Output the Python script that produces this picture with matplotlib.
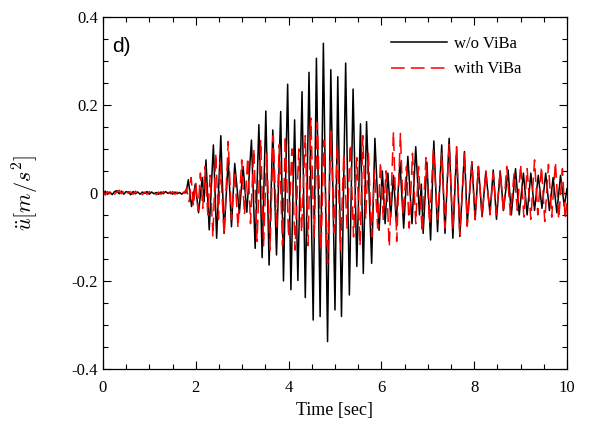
"""
plot.py
-------
Acceleration response with and without ViBa, panel d).
Values are peak / trough readings taken off the original figure.
"""

import matplotlib
matplotlib.use("Agg")
import matplotlib.pyplot as plt
from matplotlib.ticker import MultipleLocator, FuncFormatter


# quiet part before the shaking starts (shared times)
quiet_t = [0.00, 0.05, 0.10, 0.15, 0.20, 0.25, 0.30, 0.35, 0.40, 0.45,
           0.50, 0.55, 0.60, 0.65, 0.70, 0.75, 0.80, 0.85, 0.90, 0.95,
           1.00, 1.05, 1.10, 1.15, 1.20, 1.25, 1.30, 1.35, 1.40, 1.45,
           1.50, 1.55, 1.60, 1.65, 1.70, 1.75]
quiet_black = [-0.006, 0.004, -0.003, 0.002, -0.004, 0.003, 0.005, -0.002,
               0.004, -0.003, 0.003, 0.001, -0.004, 0.003, -0.002, 0.002,
               -0.003, 0.002, -0.001, 0.003, -0.003, 0.002, -0.002, 0.001,
               -0.003, 0.002, -0.002, 0.003, -0.001, 0.002, -0.003, 0.002,
               -0.002, 0.001, -0.003, 0.002]
quiet_red = [0.004, -0.005, 0.003, -0.002, 0.005, -0.003, 0.002, 0.006,
             -0.002, 0.004, -0.004, 0.003, 0.002, -0.003, 0.004, -0.002,
             0.003, -0.004, 0.002, -0.003, 0.003, -0.002, 0.001, -0.004,
             0.002, -0.003, 0.003, -0.004, 0.002, -0.002, 0.003, -0.003,
             0.002, -0.004, 0.002, -0.001]

# w/o ViBa: extremes after 1.77 s
black_t = [1.79, 1.84, 1.91, 1.99, 2.06, 2.14, 2.18, 2.22, 2.29, 2.38,
           2.45, 2.54, 2.61, 2.70, 2.77, 2.84, 2.94, 3.02, 3.10, 3.20,
           3.28, 3.36, 3.43, 3.51, 3.58, 3.66, 3.74, 3.83, 3.89, 3.98,
           4.05, 4.13, 4.20, 4.29, 4.36, 4.44, 4.53, 4.60, 4.68, 4.75,
           4.84, 4.91, 5.00, 5.06, 5.14, 5.23, 5.31, 5.39, 5.47, 5.55,
           5.61, 5.68, 5.79, 5.86, 5.95, 6.02, 6.08, 6.14, 6.20, 6.26,
           6.32, 6.40, 6.48, 6.57, 6.66, 6.74, 6.82, 6.86, 6.90, 6.98,
           7.06, 7.13, 7.21, 7.30, 7.37, 7.46, 7.54, 7.62, 7.69, 7.79,
           7.85, 7.95, 8.02, 8.09, 8.17, 8.25, 8.34, 8.41, 8.48, 8.56,
           8.63, 8.73, 8.80, 8.89, 8.97, 9.06, 9.14, 9.22, 9.30, 9.38,
           9.46, 9.54, 9.62, 9.70, 9.78, 9.86, 9.94, 10.0]
black_v = [0.000, 0.030, -0.031, 0.020, -0.045, 0.035, -0.020, 0.075, -0.084, 0.109,
           -0.103, 0.130, -0.092, 0.075, -0.077, 0.067, -0.046, 0.060, -0.044, 0.120,
           -0.126, 0.155, -0.147, 0.186, -0.164, 0.143, -0.141, 0.185, -0.200, 0.247,
           -0.220, 0.166, -0.199, 0.230, -0.238, 0.274, -0.289, 0.306, -0.281, 0.340,
           -0.338, 0.280, -0.266, 0.264, -0.281, 0.295, -0.232, 0.236, -0.167, 0.157,
           -0.183, 0.162, -0.160, 0.124, -0.085, 0.050, -0.070, 0.045, -0.055, 0.040,
           -0.065, 0.070, -0.080, 0.083, -0.070, 0.105, -0.050, 0.020, -0.092, 0.070,
           -0.107, 0.118, -0.088, 0.109, -0.092, 0.124, -0.103, 0.098, -0.099, 0.094,
           -0.069, 0.071, -0.061, 0.060, -0.054, 0.048, -0.046, 0.052, -0.060, 0.050,
           -0.040, 0.052, -0.050, 0.055, -0.050, 0.045, -0.050, 0.045, -0.040, 0.040,
           -0.035, 0.045, -0.040, 0.035, -0.045, 0.040, -0.030, 0.010]

# with ViBa: extremes after 1.77 s
red_t = [1.80, 1.86, 1.90, 1.95, 2.00, 2.05, 2.10, 2.15, 2.20, 2.26,
         2.31, 2.37, 2.43, 2.49, 2.53, 2.61, 2.70, 2.77, 2.84, 2.91,
         2.99, 3.05, 3.12, 3.18, 3.25, 3.32, 3.40, 3.46, 3.53, 3.60,
         3.67, 3.74, 3.80, 3.87, 3.93, 4.00, 4.07, 4.14, 4.22, 4.28,
         4.36, 4.42, 4.48, 4.55, 4.62, 4.70, 4.76, 4.84, 4.91, 4.98,
         5.05, 5.12, 5.19, 5.26, 5.33, 5.40, 5.47, 5.54, 5.60, 5.66,
         5.72, 5.79, 5.85, 5.92, 5.98, 6.04, 6.10, 6.17, 6.26, 6.33,
         6.41, 6.47, 6.54, 6.60, 6.67, 6.74, 6.80, 6.88, 6.96, 7.04,
         7.12, 7.21, 7.30, 7.37, 7.46, 7.54, 7.62, 7.69, 7.79, 7.85,
         7.95, 8.02, 8.09, 8.17, 8.25, 8.34, 8.41, 8.48, 8.56, 8.63,
         8.70, 8.78, 8.86, 8.93, 9.00, 9.07, 9.14, 9.22, 9.30, 9.37,
         9.45, 9.52, 9.60, 9.67, 9.75, 9.82, 9.90, 9.96, 10.0]
red_v = [0.010, -0.020, 0.035, -0.030, 0.025, -0.040, 0.045, -0.035, 0.060, -0.050,
         0.040, -0.100, 0.090, -0.060, 0.070, -0.095, 0.117, -0.060, 0.050, -0.080,
         0.075, -0.050, 0.080, -0.070, 0.100, -0.110, 0.120, -0.120, 0.090, -0.130,
         0.130, -0.080, 0.110, -0.120, 0.130, -0.100, 0.100, -0.130, 0.100, -0.090,
         0.130, -0.120, 0.170, -0.100, 0.160, -0.130, 0.120, -0.160, 0.140, -0.090,
         0.110, -0.130, 0.090, -0.080, 0.110, -0.100, 0.080, -0.120, 0.130, -0.060,
         0.090, -0.100, 0.050, -0.080, 0.070, -0.060, 0.050, -0.122, 0.139, -0.110,
         0.135, -0.050, 0.060, -0.080, 0.090, -0.070, 0.060, -0.090, 0.080, -0.070,
         0.100, -0.061, 0.090, -0.080, 0.110, -0.084, 0.105, -0.095, 0.090, -0.076,
         0.070, -0.060, 0.060, -0.055, 0.050, -0.050, 0.045, -0.050, 0.050, -0.045,
         0.060, -0.050, 0.045, -0.040, 0.065, -0.055, 0.055, -0.060, 0.075, -0.050,
         0.060, -0.065, 0.065, -0.055, 0.070, -0.060, 0.055, -0.060, -0.020]

labels = ["w/o ViBa", "with ViBa"]

plt.rcParams["font.family"] = ["Liberation Serif", "DejaVu Serif"]
plt.rcParams["mathtext.fontset"] = "cm"

fig = plt.figure(figsize=(5.95, 4.33), dpi=100)
ax = fig.add_axes([0.173, 0.148, 0.780, 0.813])

ax.plot(quiet_t + black_t, quiet_black + black_v, color="black", lw=1.1,
        label=labels[0])
ax.plot(quiet_t + red_t, quiet_red + red_v, color="#ff0000", lw=1.1,
        dashes=(9, 4), label=labels[1])

ax.set_xlim(0, 10)
ax.set_ylim(-0.4, 0.4)
ax.xaxis.set_major_locator(MultipleLocator(2))
ax.xaxis.set_minor_locator(MultipleLocator(0.5))
ax.yaxis.set_major_locator(MultipleLocator(0.2))
ax.yaxis.set_minor_locator(MultipleLocator(0.05))
ax.yaxis.set_major_formatter(FuncFormatter(lambda v, p: "0" if abs(v) < 1e-9 else f"{v:.1f}"))
ax.tick_params(which="both", direction="in", top=True, right=True, labelsize=12)
ax.tick_params(which="major", length=6, width=0.8)
ax.tick_params(which="minor", length=3.5, width=0.8)
ax.tick_params(axis="x", pad=8)
for s in ax.spines.values():
    s.set_linewidth(0.9)

ax.set_xlabel("Time [sec]", fontsize=13, labelpad=4)
ax.set_ylabel(r"$\ddot{u}[m/s^2]$", fontsize=16, labelpad=22)

ax.text(0.02, 0.915, "d)", transform=ax.transAxes, fontsize=15,
        family=["Liberation Sans", "DejaVu Sans"], va="center", ha="left")

ax.legend(loc="upper left", bbox_to_anchor=(0.62, 0.945), frameon=False,
          fontsize=12, handlelength=3.4, handletextpad=0.4, borderpad=0,
          borderaxespad=0, labelspacing=0.55)

fig.savefig("out.png", dpi=100)
